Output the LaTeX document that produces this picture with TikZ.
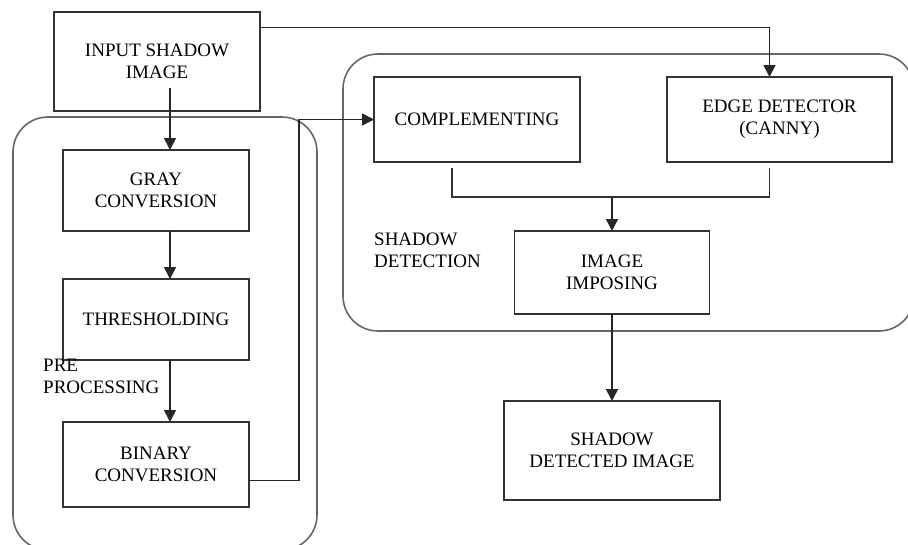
\documentclass[tikz,border=0pt]{standalone}
\usepackage{fontspec}
\setmainfont{Liberation Serif}
\usetikzlibrary{arrows.meta}

\tikzset{
  box/.style={draw=black!80, line width=1.8pt, inner sep=0pt, outer sep=0pt, align=center},
  stage/.style={draw=black!60, line width=1.6pt, rounded corners=35pt},
  arr/.style={draw=black!85, line width=1.6pt, -{Triangle[length=12pt,width=12pt]}},
  link/.style={draw=black!80, line width=1.6pt}
}

\begin{document}
\begin{tikzpicture}[x=1pt, y=-1pt, font=\fontsize{19}{22}\selectfont]
\useasboundingbox (0,0) rectangle (908,544);

% the two stages
\draw[stage] (13,117) rectangle (317,550);
\draw[stage] (343,54) rectangle (914,331);

\path (157,61.5) node[box, minimum width=206pt, minimum height=99pt](input){INPUT SHADOW\\IMAGE}
 (156,190.5) node[box, minimum width=186pt, minimum height=81pt](gray){GRAY\\CONVERSION}
 (156,319.5) node[box, minimum width=186pt, minimum height=81pt](thresh){THRESHOLDING}
 (156,464.5) node[box, minimum width=186pt, minimum height=85pt](binary){BINARY\\CONVERSION}
 (477,119.5) node[box, minimum width=206pt, minimum height=85pt](compl){COMPLEMENTING}
 (779.5,119.5) node[box, minimum width=225pt, minimum height=85pt](edge){EDGE DETECTOR\\(CANNY)}
 (612,272.5) node[box, minimum width=195pt, minimum height=83pt](imposing){IMAGE\\IMPOSING}
 (612,450.5) node[box, minimum width=216pt, minimum height=99pt](detected){SHADOW\\DETECTED IMAGE};

\node[anchor=north west, align=left, inner sep=0pt](prelabel) at (43,359) {PRE\\PROCESSING};
\node[anchor=west, align=left, inner sep=0pt](detlabel) at (374,250.5) {SHADOW\\DETECTION};

\coordinate (instart) at (170,88);
\coordinate (merge) at (612,197);

% pre processing chain
\draw[arr] (instart) -- (instart |- gray.north);
\draw[arr] (gray.south -| instart) -- (thresh.north -| instart);
\draw[arr] (thresh.south -| instart) -- (binary.north -| instart);
\draw[arr] ([yshift=-16pt]binary.east) -- ++(50,0) |- (compl.west);

% shadow detection
\draw[arr] ([yshift=34pt]input.east) -| ([xshift=-10pt]edge.north);
\draw[link] ([xshift=-25pt,yshift=-6pt]compl.south) |- (merge) -| ([xshift=-10pt,yshift=-6pt]edge.south);
\draw[arr] (merge) -- (imposing.north);
\draw[arr] (imposing.south) -- (detected.north);
\end{tikzpicture}
\end{document}
